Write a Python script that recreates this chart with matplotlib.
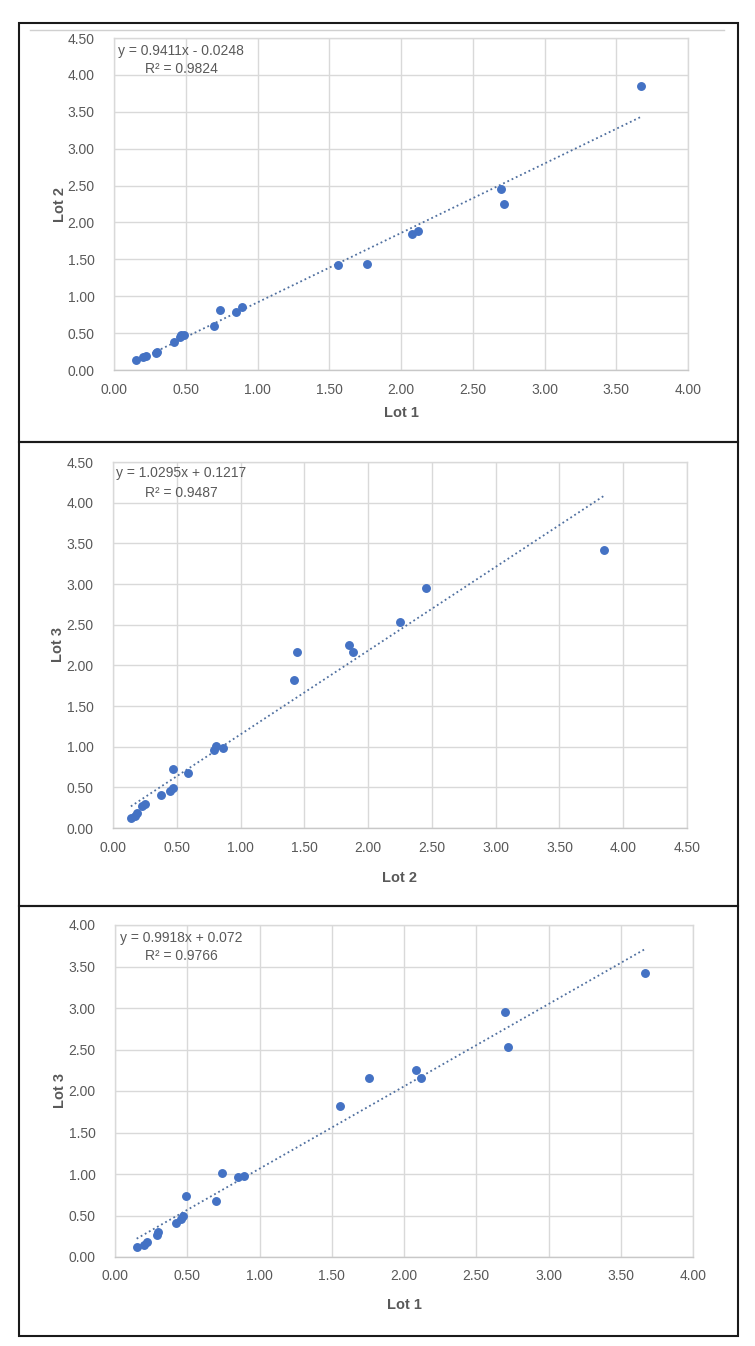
import numpy as np
import matplotlib
matplotlib.use('Agg')
import matplotlib.pyplot as plt
from matplotlib.patches import Rectangle
from matplotlib.lines import Line2D

plt.rcParams['font.family'] = ['Liberation Sans Narrow', 'Liberation Sans', 'DejaVu Sans']

# values, one entry per sample
lot1 = [0.15, 0.20, 0.22, 0.29, 0.30, 0.42, 0.46, 0.47, 0.49, 0.70,
        0.74, 0.85, 0.89, 1.56, 1.76, 2.08, 2.12, 2.70, 2.72, 3.67]
lot2 = [0.14, 0.17, 0.19, 0.23, 0.25, 0.38, 0.45, 0.47, 0.47, 0.59,
        0.81, 0.79, 0.86, 1.42, 1.44, 1.85, 1.88, 2.45, 2.25, 3.85]
lot3 = [0.12, 0.15, 0.18, 0.27, 0.30, 0.41, 0.46, 0.49, 0.73, 0.68,
        1.01, 0.96, 0.98, 1.82, 2.16, 2.25, 2.16, 2.95, 2.53, 3.42]

# trendline equations printed on the charts
slopes = [0.9411, 1.0295, 0.9918]
intercepts = [-0.0248, 0.1217, 0.072]
eq_texts = ['y = 0.9411x - 0.0248', 'y = 1.0295x + 0.1217', 'y = 0.9918x + 0.072']
r2_texts = ['R\u00b2 = 0.9824', 'R\u00b2 = 0.9487', 'R\u00b2 = 0.9766']
xlabels = ['Lot 1', 'Lot 2', 'Lot 1']
ylabels = ['Lot 2', 'Lot 3', 'Lot 3']
xmax = [4.0, 4.5, 4.0]
ymax = [4.5, 4.5, 4.0]

W, H = 755, 1346
fig = plt.figure(figsize=(W / 100, H / 100), dpi=100)

def fx(px):
    return px / W

def fy(py):
    return 1 - py / H

# pixel layout of each panel: plot box, labels, outer frame
plot_boxes = [(114, 688, 38, 370), (113, 687, 462, 828), (115, 693, 925, 1257)]
frames = [(23, 442), (442, 906), (906, 1336)]
xlab_y = [413, 878, 1305]
ylab_x = [60, 58, 60]
eq_y = [(51, 69), (473, 493), (938, 956)]

txt = '#595959'
grid = '#d9d9d9'
blue = '#4472c4'

xs = [lot1, lot2, lot1]
ys = [lot2, lot3, lot3]

for i in range(3):
    l, r, t, b = plot_boxes[i]
    ax = fig.add_axes([fx(l), fy(b), fx(r) - fx(l), fy(t) - fy(b)])
    x = np.array(xs[i])
    y = np.array(ys[i])
    ax.plot(x, y, 'o', color=blue, ms=5.4, zorder=3)
    tx = np.array([x.min(), x.max()])
    ax.plot(tx, slopes[i] * tx + intercepts[i], color='#4f6f9f', lw=1.3,
            linestyle=(0, (1, 1.6)), zorder=2)
    ax.set_xlim(0, xmax[i])
    ax.set_ylim(0, ymax[i])
    ax.set_xticks(np.arange(0, xmax[i] + 0.01, 0.5))
    ax.set_yticks(np.arange(0, ymax[i] + 0.01, 0.5))
    ax.xaxis.set_major_formatter(matplotlib.ticker.FormatStrFormatter('%.2f'))
    ax.yaxis.set_major_formatter(matplotlib.ticker.FormatStrFormatter('%.2f'))
    ax.tick_params(length=0, labelsize=10, labelcolor=txt)
    ax.tick_params(axis='x', pad=9)
    ax.tick_params(axis='y', pad=14)
    ax.grid(True, color=grid, lw=1)
    ax.set_axisbelow(True)
    for s in ax.spines.values():
        s.set_color(grid)
        s.set_linewidth(1)
    ax.spines['bottom'].set_color('#c8c8c8')
    ax.set_xlabel(xlabels[i], fontsize=10.5, color=txt, fontweight='bold', va='center')
    ax.set_ylabel(ylabels[i], fontsize=10.5, color=txt, fontweight='bold', va='center')
    # label positions in axes fractions
    ax.xaxis.set_label_coords(0.5, (b - xlab_y[i]) / (b - t))
    ax.yaxis.set_label_coords((ylab_x[i] - l) / (r - l), 0.5)
    ex = 181
    fig.text(fx(ex), fy(eq_y[i][0]), eq_texts[i], ha='center', va='center',
             fontsize=10, color=txt)
    fig.text(fx(ex), fy(eq_y[i][1]), r2_texts[i], ha='center', va='center',
             fontsize=10, color=txt)

# outer frames around each chart
for top, bot in frames:
    fig.patches.append(Rectangle((fx(19), fy(bot)), fx(738) - fx(19), fy(top) - fy(bot),
                                 transform=fig.transFigure, fill=False,
                                 edgecolor='#1a1a1a', lw=1.5))
fig.lines.append(Line2D([fx(30), fx(724)], [fy(30), fy(30)], transform=fig.transFigure,
                        color='#d0d0d0', lw=1))

fig.savefig('out.png', dpi=100)
